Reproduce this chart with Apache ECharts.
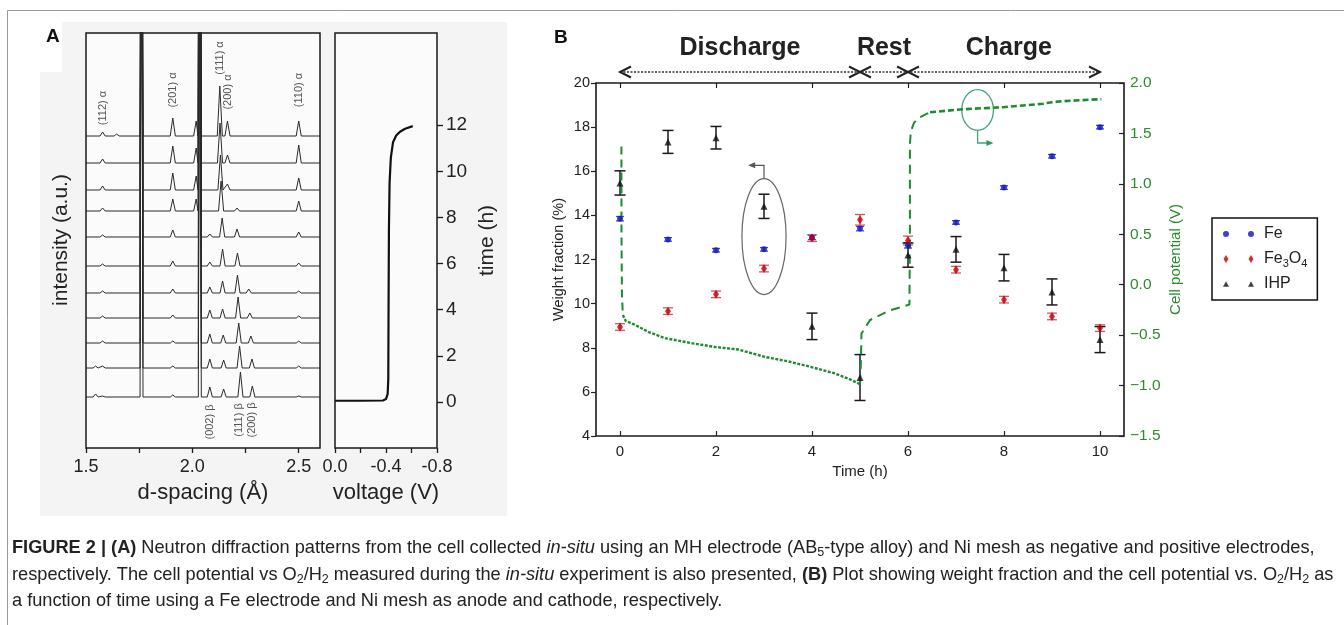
<!DOCTYPE html>
<html><head><meta charset="utf-8">
<script src="https://cdn.jsdelivr.net/npm/echarts@6/dist/echarts.min.js"></script>
<style>html,body{margin:0;padding:0;background:#fff;}#c{width:1344px;height:625px;}</style>
</head><body><div id="c"></div>
<script>
// ---------------- Panel A data ----------------
// baseline offsets of the 11 stacked diffraction patterns (bottom = first, a.u.)
const diffOffsets = [51, 80, 105, 130, 155, 182, 211, 237, 258, 285, 312];
// peaks of each pattern: [d-spacing (Å), height (a.u.)]; 600 = off-scale Ni peaks
const diffPeaks = [
  [[1.545,3],[1.578,1],[1.761,600],[1.908,2],[2.035,600],[2.082,10],[2.147,8],[2.226,25],[2.282,11],[2.50,1]],
  [[1.545,2],[1.578,2],[1.761,600],[1.908,2],[2.035,600],[2.082,9],[2.147,8],[2.222,22],[2.280,9],[2.50,2]],
  [[1.578,2],[1.761,600],[1.908,2],[2.035,600],[2.082,9],[2.145,8],[2.218,20],[2.275,7],[2.50,2]],
  [[1.578,2],[1.761,600],[1.908,3],[2.035,600],[2.082,8],[2.142,9],[2.215,21],[2.270,5],[2.50,2]],
  [[1.578,2],[1.761,600],[1.908,4],[2.035,600],[2.082,6],[2.142,12],[2.212,18],[2.265,4],[2.50,2]],
  [[1.578,2],[1.761,600],[1.908,5],[2.035,600],[2.082,4],[2.142,17],[2.212,13],[2.50,3]],
  [[1.578,2],[1.761,600],[1.908,7],[2.035,600],[2.082,3],[2.140,19],[2.210,8],[2.50,5]],
  [[1.578,3],[1.761,600],[1.908,12],[2.018,12],[2.035,600],[2.135,30],[2.210,3],[2.50,10]],
  [[1.578,4],[1.761,600],[1.908,17],[2.018,14],[2.035,600],[2.132,35],[2.165,6],[2.50,12]],
  [[1.578,4],[1.761,600],[1.908,17],[2.018,15],[2.035,600],[2.130,40],[2.165,8],[2.50,18]],
  [[1.578,4],[1.644,2],[1.761,600],[1.908,18],[2.018,15],[2.035,600],[2.129,50],[2.165,15],[2.50,15]]
];
const peakLabelsTop = ['(112) α','(201) α','(111) α','(200) α','(110) α'];
const peakLabelsTopAt = [[1.578,340],[1.908,358],[2.129,390],[2.168,356],[2.50,358]];
const peakLabelsBottom = ['(002) β','(111) β','(200) β'];
const peakLabelsBottomAt = [[2.083,26],[2.221,28],[2.278,28]];
const dTicks = [1.5, 1.75, 2.0, 2.25, 2.5];
const dLabels = [1.5, 2.0, 2.5];
// voltage profile (V) vs time (h)
const voltV = [0, -0.2, -0.376, -0.40, -0.413, -0.418, -0.42, -0.423, -0.428, -0.438, -0.455, -0.48, -0.51, -0.55, -0.61];
const voltT = [0.05, 0.05, 0.06, 0.12, 0.35, 1.0, 4.0, 7.5, 9.5, 10.6, 11.26, 11.55, 11.72, 11.85, 11.96];
const vTicks = [0, -0.2, -0.4, -0.6, -0.8];
const vLabels = [0, -0.4, -0.8];
const timeTicks = [0, 2, 4, 6, 8, 10, 12];

// ---------------- Panel B data ----------------
const times = [0,1,2,3,4,5,6,7,8,9,10];
const fe = [13.85, 12.91, 12.42, 12.46, 13.00, 13.40, 12.64, 13.68, 15.26, 16.68, 18.00];
const feErr = [0.1,0.08,0.08,0.08,0.1,0.1,0.12,0.08,0.08,0.08,0.08];
const fe3o4 = [8.94, 9.66, 10.42, 11.59, 12.97, 13.80, 12.86, 11.54, 10.18, 9.42, 8.89];
const fe3o4Err = [0.15,0.15,0.15,0.15,0.15,0.24,0.2,0.15,0.15,0.15,0.15];
const ihp = [15.47, 17.33, 17.52, 14.41, 8.97, 6.65, 12.20, 12.46, 11.63, 10.53, 8.37];
const ihpErr = [0.55, 0.52, 0.51, 0.55, 0.60, 1.04, 0.55, 0.58, 0.60, 0.59, 0.59];
// cell potential (V) vs time (h), in segments drawn with different dashes
const potStart = [[0.03,1.37],[0.03,0.6],[0.04,-0.1],[0.06,-0.30]];
const potDischarge = [[0.06,-0.30],[0.12,-0.36],[0.28,-0.39],[0.6,-0.47],[0.94,-0.53],[1.5,-0.58],[1.98,-0.617],[2.46,-0.642],[2.75,-0.68],[3.02,-0.716],[3.5,-0.76],[3.92,-0.808],[4.48,-0.88],[4.8,-0.94],[5.0,-0.986]];
const potRest = [[5.0,-0.986],[5.02,-0.75],[5.03,-0.484],[5.21,-0.35],[5.59,-0.26],[6.03,-0.196],[6.04,0.5],[6.04,1.4],[6.06,1.52],[6.12,1.6],[6.2,1.65],[6.46,1.71]];
const potCharge = [[6.46,1.71],[7.15,1.74],[7.98,1.76],[8.82,1.795],[9.0,1.81],[9.24,1.82],[10.03,1.84]];
const tTicks = [0,2,4,6,8,10];
const phases = ['Discharge','Rest','Charge'];
const phaseCenters = [2.5, 5.5, 8.1];
const phaseBounds = [0, 5, 6, 10];

const FONT = '"Liberation Sans", Arial, Helvetica, sans-serif';
const GREEN = '#1e8c2e';

function buildPattern(peaks, offset) {
  const pts = [[1.5, offset]];
  peaks.forEach(([c, h], i) => {
    const w = h >= 300 ? 0.007 : 0.012;
    let lf = c - w, rf = c + w;
    if (i > 0) lf = Math.max(lf, (peaks[i-1][0] + c) / 2);
    if (i < peaks.length - 1) rf = Math.min(rf, (c + peaks[i+1][0]) / 2);
    pts.push([lf, offset], [c, offset + h], [rf, offset]);
  });
  pts.push([2.6, offset]);
  return pts;
}

function errSeries(vals, errs, color, cap, lw, z) {
  return {
    type: 'custom', xAxisIndex: 2, yAxisIndex: 2, z: z, silent: true,
    data: times.map((t, i) => [t, vals[i] - errs[i], vals[i] + errs[i]]),
    encode: {x: 0, y: [1, 2]},
    renderItem: function (params, api) {
      const a = api.coord([api.value(0), api.value(1)]);
      const b = api.coord([api.value(0), api.value(2)]);
      const st = {stroke: color, lineWidth: lw};
      return {type: 'group', children: [
        {type: 'line', shape: {x1: a[0], y1: a[1], x2: b[0], y2: b[1]}, style: st},
        {type: 'line', shape: {x1: a[0]-cap, y1: a[1], x2: a[0]+cap, y2: a[1]}, style: st},
        {type: 'line', shape: {x1: b[0]-cap, y1: b[1], x2: b[0]+cap, y2: b[1]}, style: st}
      ]};
    }
  };
}

const chart = echarts.init(document.getElementById('c'), null, {renderer: 'canvas', width: 1344, height: 625});

const series = [];
diffPeaks.forEach((pk, i) => series.push({
  type: 'line', xAxisIndex: 0, yAxisIndex: 0, data: buildPattern(pk, diffOffsets[i]),
  symbol: 'none', lineStyle: {color: '#2a2a2a', width: 1}, clip: true, silent: true, z: 2
}));
series.push({type: 'line', xAxisIndex: 1, yAxisIndex: 1, data: voltV.map((v, i) => [v, voltT[i]]),
  symbol: 'none', lineStyle: {color: '#111', width: 2.2}, silent: true, z: 2});

series.push(errSeries(fe, feErr, '#3b4fd6', 4, 1.3, 3));
series.push(errSeries(fe3o4, fe3o4Err, '#e0506a', 5, 1.3, 3));
series.push(errSeries(ihp, ihpErr, '#1a1a1a', 5.5, 1.5, 3));
series.push({name: 'Fe', type: 'scatter', xAxisIndex: 2, yAxisIndex: 2, data: times.map((t, i) => [t, fe[i]]),
  symbol: 'circle', symbolSize: 6, itemStyle: {color: '#1212c4'}, z: 5, silent: true});
series.push({name: 'Fe3O4', type: 'scatter', xAxisIndex: 2, yAxisIndex: 2, data: times.map((t, i) => [t, fe3o4[i]]),
  symbol: 'diamond', symbolSize: [6, 9], itemStyle: {color: '#c00000'}, z: 6, silent: true});
series.push({name: 'IHP', type: 'scatter', xAxisIndex: 2, yAxisIndex: 2, data: times.map((t, i) => [t, ihp[i]]),
  symbol: 'triangle', symbolSize: 7, itemStyle: {color: '#111'}, z: 6, silent: true});

const potSeg = (data, dash, w) => ({type: 'line', xAxisIndex: 2, yAxisIndex: 3, data: data, symbol: 'none',
  lineStyle: {color: GREEN, width: w, type: dash}, silent: true, z: 4});
series.push(potSeg(potStart, [8, 5], 2));
series.push(potSeg(potDischarge, [3, 1.5], 2.4));
series.push(potSeg(potRest, [9, 6], 2));
series.push(potSeg(potCharge, [6, 3], 2.6));

const circlesIcon = 'path://M0,3a3,3 0 1,0 6,0a3,3 0 1,0 -6,0zM25,3a3,3 0 1,0 6,0a3,3 0 1,0 -6,0z';
const diamondsIcon = 'path://M3,0L5.5,4L3,8L0.5,4zM28,0L30.5,4L28,8L25.5,4z';
const trianglesIcon = 'path://M3,0.5L6,6L0,6zM28,0.5L31,6L25,6z';

const axisLabelA = {fontFamily: FONT, fontSize: 18, color: '#222'};
const noLine = {show: false, onZero: false};

chart.setOption({
  animation: false,
  backgroundColor: 'transparent',
  grid: [
    {left: 86, top: 33, width: 234, height: 415, show: true, borderColor: '#1a1a1a', borderWidth: 1.5, backgroundColor: '#fbfbfb'},
    {left: 335, top: 33, width: 102, height: 415, show: true, borderColor: '#1a1a1a', borderWidth: 1.5, backgroundColor: '#fbfbfb'},
    {left: 596, top: 83, width: 528, height: 353, show: true, borderColor: '#1a1a1a', borderWidth: 1.6, backgroundColor: '#fff'}
  ],
  xAxis: [
    {gridIndex: 0, type: 'value', min: 1.5, max: 2.6, axisLine: noLine, splitLine: {show: false},
     axisTick: {customValues: dTicks, length: 5, lineStyle: {color: '#1a1a1a', width: 1.3}},
     axisLabel: Object.assign({customValues: dLabels, margin: 10, formatter: v => v.toFixed(1)}, axisLabelA),
     name: 'd-spacing (Å)', nameLocation: 'middle', nameGap: 34, nameTextStyle: {fontFamily: FONT, fontSize: 22, color: '#222'}},
    {gridIndex: 1, type: 'value', min: -0.8, max: 0, inverse: true, axisLine: noLine, splitLine: {show: false},
     axisTick: {customValues: vTicks, length: 5, lineStyle: {color: '#1a1a1a', width: 1.3}},
     axisLabel: Object.assign({customValues: vLabels, margin: 10, formatter: v => v.toFixed(1)}, axisLabelA),
     name: 'voltage (V)', nameLocation: 'middle', nameGap: 34, nameTextStyle: {fontFamily: FONT, fontSize: 22, color: '#222'}},
    {gridIndex: 2, type: 'value', min: -0.5, max: 10.5, axisLine: noLine, splitLine: {show: false},
     axisTick: {customValues: tTicks, inside: true, length: 5, lineStyle: {color: '#222', width: 1.2}},
     axisLabel: {customValues: tTicks, margin: 8, fontFamily: FONT, fontSize: 15, color: '#222'},
     name: 'Time (h)', nameLocation: 'middle', nameGap: 26, nameTextStyle: {fontFamily: FONT, fontSize: 15, color: '#222'}},
    {gridIndex: 2, type: 'value', position: 'top', min: -0.5, max: 10.5, axisLine: noLine, splitLine: {show: false},
     axisTick: {customValues: tTicks, inside: true, length: 5, lineStyle: {color: '#222', width: 1.2}},
     axisLabel: {show: false}}
  ],
  yAxis: [
    {gridIndex: 0, type: 'value', min: 0, max: 415, show: false, axisLine: noLine},
    {gridIndex: 1, type: 'value', position: 'right', min: -2, max: 16, axisLine: noLine, splitLine: {show: false},
     axisTick: {customValues: timeTicks, length: 6, lineStyle: {color: '#1a1a1a', width: 1.3}},
     axisLabel: Object.assign({customValues: timeTicks, margin: 9}, axisLabelA, {fontSize: 19}),
     name: 'time (h)', nameLocation: 'middle', nameRotate: 90, nameGap: 40, nameTextStyle: {fontFamily: FONT, fontSize: 21, color: '#222'}},
    {gridIndex: 2, type: 'value', min: 4, max: 20, interval: 2, axisLine: noLine, splitLine: {show: false},
     axisTick: {length: 5, lineStyle: {color: '#222', width: 1.2}},
     axisLabel: {margin: 6, fontFamily: FONT, fontSize: 14.5, color: '#222'},
     name: 'Weight fraction (%)', nameLocation: 'middle', nameGap: 30, nameTextStyle: {fontFamily: FONT, fontSize: 14.5, color: '#222'}},
    {gridIndex: 2, type: 'value', position: 'right', min: -1.5, max: 2, interval: 0.5, axisLine: noLine, splitLine: {show: false},
     axisTick: {inside: true, length: 5, lineStyle: {color: '#222', width: 1.2}},
     axisLabel: {margin: 6, fontFamily: FONT, fontSize: 15.5, color: '#2b8c2b', formatter: v => (v < 0 ? '−' : '') + Math.abs(v).toFixed(1)},
     name: 'Cell potential (V)', nameLocation: 'middle', nameRotate: 90, nameGap: 44, nameTextStyle: {fontFamily: FONT, fontSize: 15, color: '#2b8c2b'}}
  ],
  legend: {
    left: 1212, top: 218, orient: 'vertical', selectedMode: false,
    data: [{name: 'Fe', icon: circlesIcon}, {name: 'Fe3O4', icon: diamondsIcon}, {name: 'IHP', icon: trianglesIcon}],
    itemWidth: 31, itemHeight: 8, itemGap: 5, padding: [6, 10, 6, 11],
    borderColor: '#111', borderWidth: 1.5, backgroundColor: '#fff',
    formatter: n => n === 'Fe3O4' ? 'Fe{s|3}O{s|4}' : n,
    textStyle: {fontFamily: FONT, fontSize: 16, color: '#222', lineHeight: 20, padding: [0, 0, 0, 5],
      rich: {s: {fontFamily: FONT, fontSize: 11, color: '#222', verticalAlign: 'bottom', lineHeight: 12}}}
  },
  series: series
});

// ---------------- static decorations and annotations ----------------
const g = [];
g.push({type: 'rect', z: -100, silent: true, shape: {x: 7.5, y: 10.5, width: 1400, height: 700}, style: {fill: '#fff', stroke: '#9a9a9a', lineWidth: 1}});
g.push({type: 'rect', z: -99, silent: true, shape: {x: 40, y: 22, width: 467, height: 494}, style: {fill: '#f4f4f4'}});
g.push({type: 'rect', z: -98, silent: true, shape: {x: 40, y: 22, width: 22, height: 50}, style: {fill: '#fff'}});
g.push({type: 'text', silent: true, style: {text: 'A', x: 46, y: 37, verticalAlign: 'middle', font: 'bold 19px ' + FONT, fill: '#111'}});
g.push({type: 'text', silent: true, style: {text: 'B', x: 554, y: 38, verticalAlign: 'middle', font: 'bold 19px ' + FONT, fill: '#111'}});
g.push({type: 'text', silent: true, rotation: Math.PI / 2, x: 61, y: 240,
  style: {text: 'intensity (a.u.)', x: 0, y: 0, align: 'center', verticalAlign: 'middle', font: '21px ' + FONT, fill: '#222'}});

const pA = p => chart.convertToPixel({xAxisIndex: 0, yAxisIndex: 0}, p);
peakLabelsTop.forEach((t, i) => {
  const p = pA(peakLabelsTopAt[i]);
  g.push({type: 'text', silent: true, rotation: Math.PI / 2, x: p[0], y: p[1],
    style: {text: t, x: 0, y: 0, align: 'center', verticalAlign: 'middle', font: '11px ' + FONT, fill: '#555'}});
});
peakLabelsBottom.forEach((t, i) => {
  const p = pA(peakLabelsBottomAt[i]);
  g.push({type: 'text', silent: true, rotation: Math.PI / 2, x: p[0], y: p[1],
    style: {text: t, x: 0, y: 0, align: 'center', verticalAlign: 'middle', font: '11px ' + FONT, fill: '#555'}});
});

const pL = p => chart.convertToPixel({xAxisIndex: 2, yAxisIndex: 2}, p);
const pR = p => chart.convertToPixel({xAxisIndex: 2, yAxisIndex: 3}, p);
const gridTop = pL([0, 20])[1];
const arrowY = gridTop - 11;
phases.forEach((t, i) => {
  g.push({type: 'text', silent: true, style: {text: t, x: pL([phaseCenters[i], 20])[0], y: 48, align: 'center', verticalAlign: 'middle',
    font: 'bold 25px ' + FONT, fill: '#222'}});
});
const bx = phaseBounds.map(t => pL([t, 20])[0]);
g.push({type: 'line', silent: true, shape: {x1: bx[0], y1: arrowY, x2: bx[3], y2: arrowY}, style: {stroke: '#333', lineWidth: 1.4, lineDash: [2, 1.5]}});
function chevron(x, dir) { // dir -1: "<" tip at x ; +1: ">" tip at x
  return {type: 'polyline', silent: true, shape: {points: [[x - dir * 11, arrowY - 5.5], [x, arrowY], [x - dir * 11, arrowY + 5.5]]},
    style: {stroke: '#222', lineWidth: 2, fill: null}};
}
g.push(chevron(bx[0], -1));
g.push(chevron(bx[1], 1)); g.push(chevron(bx[1], -1));
g.push(chevron(bx[2], 1)); g.push(chevron(bx[2], -1));
g.push(chevron(bx[3], 1));

// gray ellipse around the t = 3 h points, arrow to the left axis
const ec = pL([3, 13.04]);
const eTop = pL([3, 15.68]);
const eSide = pL([3.46, 10.41]);
g.push({type: 'ellipse', silent: true, shape: {cx: ec[0], cy: ec[1], rx: eSide[0] - ec[0], ry: eSide[1] - ec[1]},
  style: {stroke: '#666', lineWidth: 1.2, fill: null}});
const aTurn = pL([3, 16.27]);
const aTip = pL([2.67, 16.27]);
g.push({type: 'polyline', silent: true, shape: {points: [[eTop[0], eTop[1]], [aTurn[0], aTurn[1]], [aTip[0] + 6, aTip[1]]]},
  style: {stroke: '#555', lineWidth: 1.2, fill: null}});
g.push({type: 'polygon', silent: true, shape: {points: [[aTip[0], aTip[1]], [aTip[0] + 7, aTip[1] - 3], [aTip[0] + 7, aTip[1] + 3]]}, style: {fill: '#555'}});

// green ellipse around the charge plateau, arrow to the right axis
const gc = pR([7.45, 1.732]);
const gSide = pR([7.78, 1.53]);
g.push({type: 'ellipse', silent: true, shape: {cx: gc[0], cy: gc[1], rx: gSide[0] - gc[0], ry: gSide[1] - gc[1]},
  style: {stroke: '#3fa37a', lineWidth: 1.3, fill: null}});
const gBot = pR([7.45, 1.53]);
const gTurn = pR([7.45, 1.405]);
const gTip = pR([7.78, 1.405]);
g.push({type: 'polyline', silent: true, shape: {points: [[gBot[0], gBot[1]], [gTurn[0], gTurn[1]], [gTip[0] - 6, gTip[1]]]},
  style: {stroke: '#3fa37a', lineWidth: 1.3, fill: null}});
g.push({type: 'polygon', silent: true, shape: {points: [[gTip[0], gTip[1]], [gTip[0] - 7, gTip[1] - 3], [gTip[0] - 7, gTip[1] + 3]]}, style: {fill: '#2e9a5a'}});

// caption
const CAP = 18.2;
const capRich = {
  b: {fontFamily: FONT, fontSize: CAP, fontWeight: 'bold', fill: '#222'},
  i: {fontFamily: FONT, fontSize: CAP, fontStyle: 'italic', fill: '#222'},
  s: {fontFamily: FONT, fontSize: 12.5, fill: '#222', verticalAlign: 'bottom', lineHeight: 14}
};
const capLines = [
  '{b|FIGURE 2 | (A)} Neutron diffraction patterns from the cell collected {i|in-situ} using an MH electrode (AB{s|5}-type alloy) and Ni mesh as negative and positive electrodes,',
  'respectively. The cell potential vs O{s|2}/H{s|2} measured during the {i|in-situ} experiment is also presented, {b|(B)} Plot showing weight fraction and the cell potential vs. O{s|2}/H{s|2} as',
  'a function of time using a Fe electrode and Ni mesh as anode and cathode, respectively.'
];
const capY = [548, 575, 601];
capLines.forEach((t, i) => g.push({type: 'text', silent: true,
  style: {text: t, x: 12, y: capY[i], verticalAlign: 'middle', fontFamily: FONT, fontSize: CAP, lineHeight: 22, fill: '#222', rich: capRich}}));

chart.setOption({graphic: {elements: g}});
</script></body></html>
